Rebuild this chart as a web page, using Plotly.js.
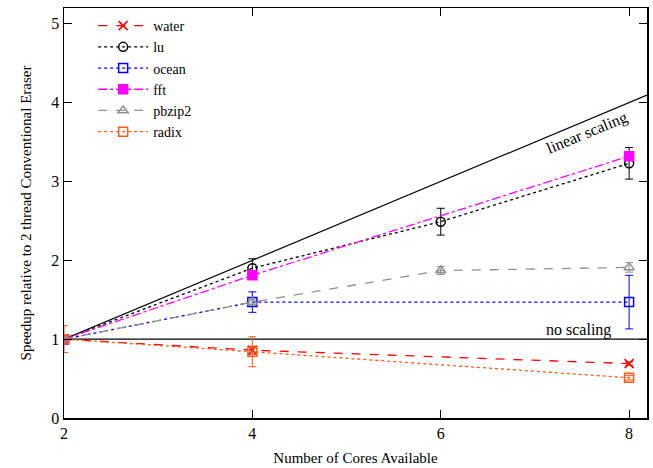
<!DOCTYPE html>
<html>
<head>
<meta charset="utf-8">
<script src="https://cdn.plot.ly/plotly-3.0.1.min.js"></script>
<style>html,body{margin:0;padding:0;background:#fff}#chart{width:653px;height:468px}</style>
</head>
<body>
<div id="chart"></div>
<script>
// Data
const coresA = [2, 4, 8];
const coresB = [2, 4, 6, 8];
const waterY = [1.0, 0.86, 0.69];
const waterErr = [0.03, 0.05, 0.02];
const luY = [1.0, 1.90, 2.49, 3.23];
const luErr = [0.05, 0.12, 0.17, 0.20];
const oceanY = [1.0, 1.47, 1.47];
const oceanErr = [0.05, 0.13, 0.34];
const fftY = [1.0, 1.81, 3.32];
const fftErr = [0.03, 0.04, 0.05];
const pbzipY = [1.0, 1.47, 1.87, 1.91];
const pbzipErr = [0.03, 0.04, 0.05, 0.06];
const radixY = [1.0, 0.84, 0.51];
const radixErr = [0.17, 0.19, 0.03];
const xTicks = [2, 4, 6, 8];
const yTicks = [0, 1, 2, 3, 4, 5];

const serif = "Liberation Serif";

function tr(name, x, y, err, color, dash, symbol) {
  return {
    type: 'scatter', mode: 'lines+markers', name: name, x: x, y: y,
    line: {color: color, dash: dash, width: 1.3},
    marker: {symbol: symbol, size: 9, color: color, line: {color: color, width: 1.5}},
    error_y: {type: 'data', array: err, visible: true, color: color, thickness: 1, width: 4}
  };
}

const data = [
  tr('water', coresA, waterY, waterErr, '#ff0000', 'dash', 'x-thin-open'),
  tr('lu', coresB, luY, luErr, '#000000', 'dot', 'circle-open'),
  tr('ocean', coresA, oceanY, oceanErr, '#0000ff', 'dot', 'square-open'),
  tr('fft', coresA, fftY, fftErr, '#ff00ff', 'dashdot', 'square'),
  tr('pbzip2', coresB, pbzipY, pbzipErr, '#909090', 'dash', 'triangle-up-open'),
  tr('radix', coresA, radixY, radixErr, '#ff5a14', 'dot', 'square-open')
];

const axisCommon = {
  showline: true, mirror: 'ticks', linecolor: '#000', linewidth: 1.5,
  ticks: 'inside', ticklen: 8, tickcolor: '#000', tickwidth: 1,
  showgrid: false, zeroline: false,
  tickfont: {family: serif, size: 16, color: '#000'}
};

const layout = {
  width: 653, height: 468,
  font: {family: serif, color: '#000'},
  margin: {l: 64, r: 6, t: 8, b: 50},
  paper_bgcolor: '#fff', plot_bgcolor: '#fff',
  showlegend: true,
  legend: {x: 0.05, y: 0.995, xanchor: 'left', yanchor: 'top',
    font: {family: serif, size: 14, color: '#000'},
    bgcolor: 'rgba(0,0,0,0)', tracegroupgap: 0, itemwidth: 50},
  xaxis: Object.assign({}, axisCommon, {
    range: [2, 8.19], tickvals: xTicks, ticktext: xTicks.map(String),
    title: {text: 'Number of Cores Available', font: {family: serif, size: 15, color: '#000'}, standoff: 12}
  }),
  yaxis: Object.assign({}, axisCommon, {
    range: [0, 5.2], tickvals: yTicks, ticktext: yTicks.map(String),
    title: {text: 'Speedup relative to 2 thread Conventional Eraser', font: {family: serif, size: 15, color: '#000'}, standoff: 16}
  }),
  shapes: [
    {type: 'line', xref: 'x', yref: 'y', x0: 2, y0: 1, x1: 8.19, y1: 4.095, line: {color: '#000', width: 1.2}, layer: 'below'},
    {type: 'line', xref: 'paper', yref: 'y', x0: 0, y0: 1, x1: 1, y1: 1, line: {color: '#000', width: 1.2}, layer: 'below'}
  ],
  annotations: [
    {xref: 'x', yref: 'y', x: 7.55, y: 3.62, text: 'linear scaling', showarrow: false, textangle: -22.5,
     font: {family: serif, size: 16, color: '#000'}},
    {xref: 'x', yref: 'y', x: 7.46, y: 1.12, text: 'no scaling', showarrow: false,
     font: {family: serif, size: 16, color: '#000'}}
  ]
};

Plotly.newPlot('chart', data, layout, {displayModeBar: false, staticPlot: true});
</script>
</body>
</html>
